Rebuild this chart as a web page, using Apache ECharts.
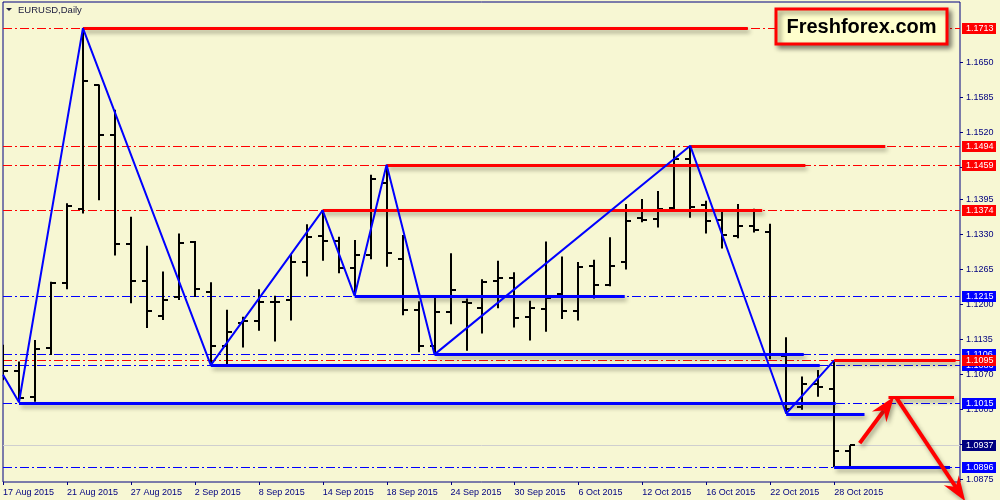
<!DOCTYPE html>
<html>
<head>
<meta charset="utf-8">
<title>EURUSD Daily</title>
<script src="https://cdn.jsdelivr.net/npm/echarts@6/dist/echarts.min.js"></script>
<style>
  html, body { margin: 0; padding: 0; background: #f7f7d3; }
  #chart { width: 1000px; height: 500px; }
</style>
</head>
<body>
<div id="chart"></div>
<script>
// trading days, one bar each
var dates = [
  '17 Aug 2015', '18 Aug 2015', '19 Aug 2015', '20 Aug 2015', '21 Aug 2015',
  '24 Aug 2015', '25 Aug 2015', '26 Aug 2015', '27 Aug 2015', '28 Aug 2015',
  '31 Aug 2015', '1 Sep 2015', '2 Sep 2015', '3 Sep 2015', '4 Sep 2015',
  '7 Sep 2015', '8 Sep 2015', '9 Sep 2015', '10 Sep 2015', '11 Sep 2015',
  '14 Sep 2015', '15 Sep 2015', '16 Sep 2015', '17 Sep 2015', '18 Sep 2015',
  '21 Sep 2015', '22 Sep 2015', '23 Sep 2015', '24 Sep 2015', '25 Sep 2015',
  '28 Sep 2015', '29 Sep 2015', '30 Sep 2015', '1 Oct 2015', '2 Oct 2015',
  '5 Oct 2015', '6 Oct 2015', '7 Oct 2015', '8 Oct 2015', '9 Oct 2015',
  '12 Oct 2015', '13 Oct 2015', '14 Oct 2015', '15 Oct 2015', '16 Oct 2015',
  '19 Oct 2015', '20 Oct 2015', '21 Oct 2015', '22 Oct 2015', '23 Oct 2015',
  '26 Oct 2015', '27 Oct 2015', '28 Oct 2015', '29 Oct 2015'
];

var opens = [1.1100, 1.1076, 1.1026, 1.1118, 1.1238, 1.1377, 1.1608, 1.1514, 1.1311, 1.1243,
  1.1178, 1.1212, 1.1315, 1.1223, 1.1122, 1.1164, 1.1169, 1.1203, 1.1207, 1.1277,
  1.1327, 1.1317, 1.1266, 1.1290, 1.1425, 1.1283, 1.1188, 1.1122, 1.1184, 1.1204,
  1.1193, 1.1243, 1.1248, 1.1175, 1.1191, 1.1218, 1.1187, 1.1271, 1.1235, 1.1277,
  1.1359, 1.1357, 1.1378, 1.1469, 1.1384, 1.1356, 1.1326, 1.1344, 1.1334, 1.1103,
  1.1008, 1.1050, 1.1042, 1.0926];
var highs = [1.1124, 1.1093, 1.1133, 1.1241, 1.1387, 1.1713, 1.1608, 1.1561, 1.1362, 1.1308,
  1.1260, 1.1331, 1.1317, 1.1240, 1.1189, 1.1176, 1.1227, 1.1215, 1.1293, 1.1348,
  1.1374, 1.1325, 1.1319, 1.1440, 1.1459, 1.1328, 1.1205, 1.1213, 1.1294, 1.1210,
  1.1246, 1.1280, 1.1259, 1.1206, 1.1316, 1.1288, 1.1278, 1.1282, 1.1324, 1.1386,
  1.1395, 1.1410, 1.1486, 1.1494, 1.1392, 1.1376, 1.1386, 1.1377, 1.1349, 1.1138,
  1.1065, 1.1077, 1.1095, 1.0937];
var lows = [1.1058, 1.1017, 1.1018, 1.1105, 1.1227, 1.1368, 1.1393, 1.1290, 1.1201, 1.1155,
  1.1170, 1.1207, 1.1213, 1.1086, 1.1086, 1.1119, 1.1150, 1.1130, 1.1169, 1.1251,
  1.1280, 1.1257, 1.1215, 1.1283, 1.1269, 1.1179, 1.1110, 1.1106, 1.1162, 1.1113,
  1.1145, 1.1192, 1.1156, 1.1132, 1.1148, 1.1172, 1.1169, 1.1210, 1.1233, 1.1264,
  1.1352, 1.1342, 1.1375, 1.1360, 1.1331, 1.1303, 1.1322, 1.1333, 1.1097, 1.0996,
  1.1003, 1.1027, 1.0896, 1.0898];
var closes = [1.1076, 1.1024, 1.1116, 1.1238, 1.1383, 1.1615, 1.1514, 1.1311, 1.1243, 1.1186,
  1.1207, 1.1313, 1.1227, 1.1122, 1.1148, 1.1169, 1.1203, 1.1204, 1.1277, 1.1325,
  1.1317, 1.1267, 1.1290, 1.1432, 1.1294, 1.1189, 1.1122, 1.1184, 1.1226, 1.1201,
  1.1241, 1.1248, 1.1174, 1.1192, 1.1210, 1.1187, 1.1269, 1.1235, 1.1271, 1.1355,
  1.1356, 1.1376, 1.1470, 1.1381, 1.1354, 1.1328, 1.1344, 1.1337, 1.1107, 1.1004,
  1.1050, 1.1046, 1.0926, 1.0937];

// zigzag turning points: [bar index, price]
var zigzag = [[0, 1.1068], [1, 1.1017], [5, 1.1713], [13, 1.1086], [20, 1.1374], [22, 1.1215],
  [24, 1.1459], [27, 1.1106], [43, 1.1494], [49, 1.0996], [52, 1.1095]];

// horizontal levels (dash-dot across the chart, boxed on the price scale)
var levelPrices = [1.1713, 1.1494, 1.1459, 1.1374, 1.1215, 1.1106, 1.1086, 1.1095, 1.1015, 1.0937, 1.0896];
var levelKinds = ['res', 'res', 'res', 'res', 'sup', 'sup', 'sup', 'res', 'sup', 'bid', 'sup'];

// price scale tick labels
var priceTicks = [1.1650, 1.1585, 1.1520, 1.1455, 1.1395, 1.1330, 1.1265, 1.1200, 1.1135, 1.1070, 1.1005, 1.0940, 1.0875];

// drawn trend segments: from bar, to bar, price
var segFrom  = [5, 43, 24, 20, 52, 55.4, 22, 27, 13, 1, 49, 52];
var segTo    = [46.6, 55.2, 50.2, 47.5, 59.6, 59.5, 38.9, 50.1, 51.1, 52.1, 53.9, 59.25];
var segPrice = [1.1713, 1.1494, 1.1459, 1.1374, 1.1095, 1.1027, 1.1215, 1.1106, 1.1086, 1.1015, 1.0996, 1.0896];
var segKinds = ['res', 'res', 'res', 'res', 'res', 'res', 'sup', 'sup', 'sup', 'sup', 'sup', 'sup'];

// forecast arrows: from [bar, price] to [bar, price]
var arrowFrom = [[53.6, 1.0941], [55.9, 1.1025]];
var arrowTo   = [[55.75, 1.1027], [60.2, 1.0833]];

var dateTickEvery = 4;

var COLORS = { res: '#ff0000', sup: '#0000ff', bid: '#000080' };
var NAVY = '#000080';
var FONT = '9px "Liberation Sans", Arial, sans-serif';
var SHADOW = { shadowColor: 'rgba(60,60,40,0.45)', shadowBlur: 4, shadowOffsetX: 2, shadowOffsetY: 3 };

var chart = echarts.init(document.getElementById('chart'));

function withShadow(style) {
  return Object.assign({}, style, SHADOW);
}

function renderLevel(params, api) {
  var cs = params.coordSys;
  var y = Math.round(api.coord([0, api.value(1)])[1]) + 0.5;
  var kind = levelKinds[params.dataIndex];
  var style = kind === 'bid'
    ? { stroke: '#cfcfcf', lineWidth: 1 }
    : { stroke: COLORS[kind], lineWidth: 1, lineDash: [9, 3, 2, 3] };
  return { type: 'line', shape: { x1: cs.x, y1: y, x2: cs.x + cs.width, y2: y }, style: style };
}

function renderBar(params, api) {
  var i = api.value(0);
  var o = api.coord([i, api.value(1)]);
  var h = api.coord([i, api.value(2)]);
  var l = api.coord([i, api.value(3)]);
  var c = api.coord([i, api.value(4)]);
  var x = Math.round(h[0]);
  var st = { stroke: '#000', lineWidth: 2 };
  return {
    type: 'group',
    children: [
      { type: 'line', shape: { x1: x, y1: h[1], x2: x, y2: l[1] }, style: st },
      { type: 'line', shape: { x1: x - 5, y1: Math.round(o[1]), x2: x, y2: Math.round(o[1]) }, style: st },
      { type: 'line', shape: { x1: x, y1: Math.round(c[1]), x2: x + 5, y2: Math.round(c[1]) }, style: st }
    ]
  };
}

function renderSegment(params, api) {
  var a = api.coord([api.value(0), api.value(2)]);
  var b = api.coord([api.value(1), api.value(2)]);
  var y = Math.round(a[1]) + 0.5;
  return {
    type: 'line',
    shape: { x1: a[0], y1: y, x2: b[0], y2: y },
    style: withShadow({ stroke: COLORS[segKinds[params.dataIndex]], lineWidth: 3 })
  };
}

function renderArrow(params, api) {
  var a = api.coord([api.value(0), api.value(1)]);
  var b = api.coord([api.value(2), api.value(3)]);
  var dx = b[0] - a[0], dy = b[1] - a[1];
  var len = Math.sqrt(dx * dx + dy * dy);
  var ux = dx / len, uy = dy / len, px = -uy, py = ux;
  var head = 25, half = 9, notch = 8;
  var bx = b[0] - ux * head, by = b[1] - uy * head;
  return {
    type: 'group',
    children: [
      { type: 'line', shape: { x1: a[0], y1: a[1], x2: bx + ux * notch, y2: by + uy * notch },
        style: withShadow({ stroke: '#ff0000', lineWidth: 4 }) },
      { type: 'polygon', shape: { points: [
          [b[0], b[1]],
          [bx + px * half, by + py * half],
          [bx + ux * notch, by + uy * notch],
          [bx - px * half, by - py * half]
        ] },
        style: withShadow({ fill: '#ff0000' }) }
    ]
  };
}

function renderPriceTick(params, api) {
  var cs = params.coordSys;
  var right = cs.x + cs.width;
  var y = Math.round(api.coord([0, api.value(1)])[1]);
  return {
    type: 'group',
    children: [
      { type: 'line', shape: { x1: right, y1: y + 0.5, x2: right + 3, y2: y + 0.5 }, style: { stroke: NAVY, lineWidth: 1 } },
      { type: 'text', x: right + 6, y: y + 1, style: { text: api.value(1).toFixed(4), fill: NAVY, font: FONT, verticalAlign: 'middle' } }
    ]
  };
}

function renderLevelBox(params, api) {
  var cs = params.coordSys;
  var right = cs.x + cs.width;
  var y = Math.round(api.coord([0, api.value(1)])[1]);
  return {
    type: 'group',
    children: [
      { type: 'rect', shape: { x: right + 2, y: y - 5, width: 34, height: 11 }, style: { fill: COLORS[levelKinds[params.dataIndex]] } },
      { type: 'text', x: right + 6, y: y + 1, style: { text: api.value(1).toFixed(4), fill: '#ffffff', font: FONT, verticalAlign: 'middle' } }
    ]
  };
}

function renderDateTick(params, api) {
  var cs = params.coordSys;
  var x = Math.round(api.coord([api.value(0), 0])[0]) + 0.5;
  var bottom = cs.y + cs.height;
  return { type: 'line', shape: { x1: x, y1: bottom, x2: x, y2: bottom + 3 }, style: { stroke: NAVY, lineWidth: 1 } };
}

var ohlc = dates.map(function (d, i) { return [i, opens[i], highs[i], lows[i], closes[i]]; });
var levels = levelPrices.map(function (p) { return [0, p]; });
var segments = segFrom.map(function (s, i) { return [s, segTo[i], segPrice[i]]; });
var arrows = arrowFrom.map(function (f, i) { return [f[0], f[1], arrowTo[i][0], arrowTo[i][1]]; });
var dateTicks = dates.map(function (d, i) { return [i, 0]; }).filter(function (d) { return d[0] % dateTickEvery === 0; });

var option = {
  backgroundColor: '#f7f7d3',
  animation: false,
  grid: { left: 2, right: 40, top: 2, bottom: 18, show: true, borderColor: NAVY, borderWidth: 1 },
  xAxis: {
    type: 'value',
    min: 0,
    max: 59.875,
    interval: dateTickEvery,
    axisLine: { show: false },
    axisTick: { show: false },
    splitLine: { show: false },
    axisLabel: {
      formatter: function (v) { return (v % dateTickEvery === 0 && dates[v]) ? dates[v] : ''; },
      align: 'left',
      color: NAVY,
      fontSize: 9,
      fontFamily: 'Liberation Sans',
      margin: 6,
      hideOverlap: false
    }
  },
  yAxis: {
    type: 'value',
    position: 'right',
    min: 1.08686,
    max: 1.17616,
    scale: true,
    axisLine: { show: false },
    axisTick: { show: false },
    axisLabel: { show: false },
    splitLine: { show: false }
  },
  series: [
    { type: 'custom', name: 'levels', renderItem: renderLevel, data: levels, z: 1, clip: true, silent: true },
    { type: 'custom', name: 'EURUSD', renderItem: renderBar, data: ohlc, z: 3, clip: true },
    { type: 'custom', name: 'segments', renderItem: renderSegment, data: segments, z: 4, clip: true, silent: true },
    {
      type: 'line', name: 'zigzag', data: zigzag, symbol: 'none', z: 5,
      lineStyle: { color: '#0000ff', width: 2 }
    },
    { type: 'custom', name: 'arrows', renderItem: renderArrow, data: arrows, z: 6, clip: false, silent: true },
    { type: 'custom', name: 'priceTicks', renderItem: renderPriceTick, data: priceTicks.map(function (p) { return [0, p]; }), z: 8, clip: false, silent: true },
    { type: 'custom', name: 'levelBoxes', renderItem: renderLevelBox, data: levels, z: 9, clip: false, silent: true },
    { type: 'custom', name: 'dateTicks', renderItem: renderDateTick, data: dateTicks, z: 8, clip: false, silent: true }
  ],
  graphic: [
    { type: 'polygon', shape: { points: [[6, 8], [12, 8], [9, 11]] }, style: { fill: '#202040' }, z: 20 },
    { type: 'text', left: 18, top: 5, style: { text: 'EURUSD,Daily', fill: '#202040', font: '9.5px "Liberation Sans", Arial, sans-serif' }, z: 20 },
    {
      type: 'rect', shape: { x: 776, y: 9, width: 171, height: 35 },
      style: { fill: '#ffffcc', stroke: '#ff0000', lineWidth: 3, shadowColor: 'rgba(0,0,0,0.45)', shadowBlur: 5, shadowOffsetX: 3, shadowOffsetY: 3 },
      z: 20
    },
    {
      type: 'text', x: 861.5, y: 27,
      style: { text: 'Freshforex.com', fill: '#000', font: 'bold 20px "Liberation Sans", Arial, sans-serif', align: 'center', verticalAlign: 'middle' },
      z: 21
    }
  ]
};

chart.setOption(option);
</script>
</body>
</html>
